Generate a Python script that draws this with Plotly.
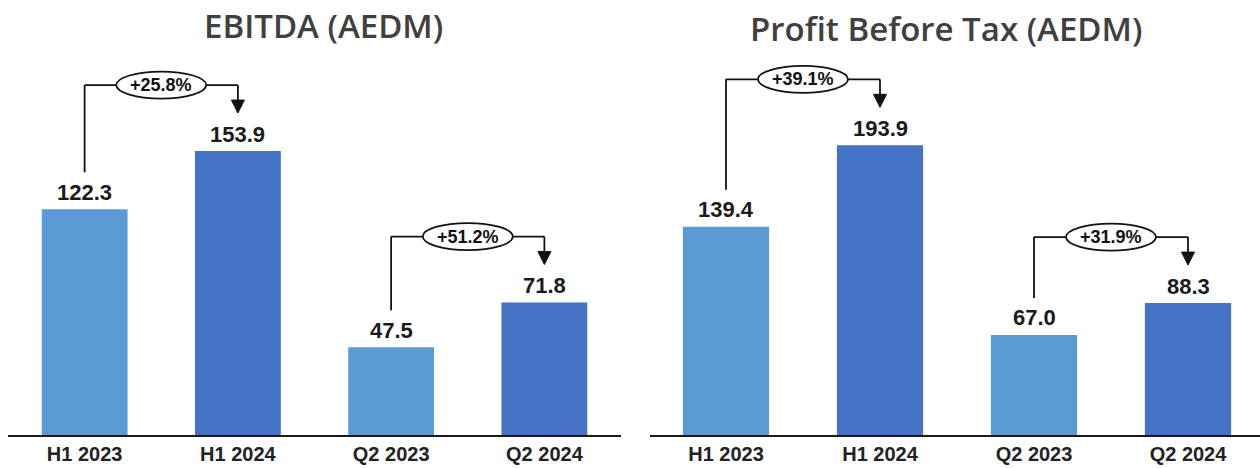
import plotly.graph_objects as go

# ---------------- data ----------------
categories = ["H1 2023", "H1 2024", "Q2 2023", "Q2 2024"]
ebitda_values = [122.3, 153.9, 47.5, 71.8]
pbt_values = [139.4, 193.9, 67.0, 88.3]
ebitda_growth = ["+25.8%", "+51.2%"]
pbt_growth = ["+39.1%", "+31.9%"]
titles = ["EBITDA (AEDM)", "Profit Before Tax (AEDM)"]
bar_colors = ["#5B9BD5", "#4472C4", "#5B9BD5", "#4472C4"]

# ---------------- layout constants ----------------
W, H = 1260, 468
BASE_PX = 435          # baseline pixel row (from top)
TOP_PX = 50            # top of plot area
PANELS = [
    dict(left=8, right=621, ppu=1.845),
    dict(left=650, right=1260, ppu=1.494),
]
CAT_PX = [153.25, 154.0]

LABEL_FONT = "Liberation Sans, Arial, sans-serif"
AXIS_FONT = "Liberation Sans, Arial, sans-serif"
TITLE_FONT = "Open Sans, Noto Sans, sans-serif"

fig = go.Figure()
shapes = []
annotations = []

series = [ebitda_values, pbt_values]
growths = [ebitda_growth, pbt_growth]

for p, (vals, grow, title) in enumerate(zip(series, growths, titles)):
    cfg = PANELS[p]
    xa = "x" if p == 0 else "x2"
    ya = "y" if p == 0 else "y2"
    cat_px = CAT_PX[p]
    ppu = cfg["ppu"]
    x_start = -0.5 if p == 0 else -0.5 + (cfg["left"] - 649) / cat_px
    x_end = x_start + (cfg["right"] - cfg["left"]) / cat_px
    y_top = (BASE_PX - TOP_PX) / ppu

    fig.add_trace(go.Bar(
        x=categories, y=vals, xaxis=xa, yaxis=ya,
        marker=dict(color=bar_colors, line=dict(width=0)),
        width=0.56, showlegend=False, hoverinfo="skip",
    ))

    ax_suffix = "" if p == 0 else "2"
    fig.update_layout(**{
        f"xaxis{ax_suffix}": dict(
            domain=[cfg["left"] / W, cfg["right"] / W],
            range=[x_start, x_end], type="category",
            showgrid=False, zeroline=False, showline=True,
            linecolor="#1a1a1a", linewidth=2, ticks="",
            tickfont=dict(family=AXIS_FONT, size=20, color="#222222",
                          weight="bold"),
            anchor=ya, fixedrange=True,
        ),
        f"yaxis{ax_suffix}": dict(
            domain=[(H - BASE_PX) / H, (H - TOP_PX) / H],
            range=[0, y_top], visible=False, anchor=xa, fixedrange=True,
        ),
    })

    dx = 1.0 / cat_px   # data units per pixel (x)
    dy = 1.0 / ppu      # data units per pixel (y)

    # value labels
    for i, v in enumerate(vals):
        annotations.append(dict(
            x=i, y=v, xref=xa, yref=ya, text=f"{v:.1f}", showarrow=False,
            yanchor="middle", yshift=17,
            font=dict(family=LABEL_FONT, size=22, color="#1a1a1a", weight="bold"),
        ))

    # growth connectors
    for k, g in enumerate(grow):
        i0, i1 = 2 * k, 2 * k + 1
        v0, v1 = vals[i0], vals[i1]
        y_start = v0 + 37 * dy
        y_h = v1 + 66 * dy
        y_tip = v1 + 38 * dy
        tri_h, tri_w = 13, 13
        line = dict(color="#111111", width=1.8)
        shapes.append(dict(type="line", xref=xa, yref=ya, x0=i0, x1=i0,
                           y0=y_start, y1=y_h, line=line))
        shapes.append(dict(type="line", xref=xa, yref=ya, x0=i0, x1=i1,
                           y0=y_h, y1=y_h, line=line))
        shapes.append(dict(type="line", xref=xa, yref=ya, x0=i1, x1=i1,
                           y0=y_h, y1=y_tip + tri_h * dy, line=line))
        path = (f"M {i1 - tri_w / 2 * dx},{y_tip + tri_h * dy} "
                f"L {i1 + tri_w / 2 * dx},{y_tip + tri_h * dy} "
                f"L {i1},{y_tip} Z")
        shapes.append(dict(type="path", xref=xa, yref=ya, path=path,
                           fillcolor="#111111", line=dict(color="#111111", width=1)))
        xm = (i0 + i1) / 2
        shapes.append(dict(type="circle", xref=xa, yref=ya,
                           x0=xm - 45 * dx, x1=xm + 45 * dx,
                           y0=y_h - 13.5 * dy, y1=y_h + 13.5 * dy,
                           fillcolor="white", line=dict(color="#111111", width=1.8)))
        annotations.append(dict(
            x=xm, y=y_h, xref=xa, yref=ya, text=g, showarrow=False,
            yanchor="middle", xanchor="center",
            font=dict(family=LABEL_FONT, size=18, color="#111111", weight="bold"),
        ))

# titles
annotations.append(dict(x=324 / W, y=1 - 25 / H, xref="paper", yref="paper",
                        text=titles[0], showarrow=False, xanchor="center",
                        yanchor="middle",
                        font=dict(family=TITLE_FONT, size=33, color="#404040",
                                  weight=600)))
annotations.append(dict(x=946 / W, y=1 - 28 / H, xref="paper", yref="paper",
                        text=titles[1], showarrow=False, xanchor="center",
                        yanchor="middle",
                        font=dict(family=TITLE_FONT, size=33, color="#404040",
                                  weight=600)))

fig.update_layout(
    width=W, height=H, autosize=False,
    margin=dict(l=0, r=0, t=0, b=0),
    paper_bgcolor="white", plot_bgcolor="white",
    shapes=shapes, annotations=annotations,
    bargap=0.44, showlegend=False,
)

fig.write_html("out.html", config={"displayModeBar": False})
